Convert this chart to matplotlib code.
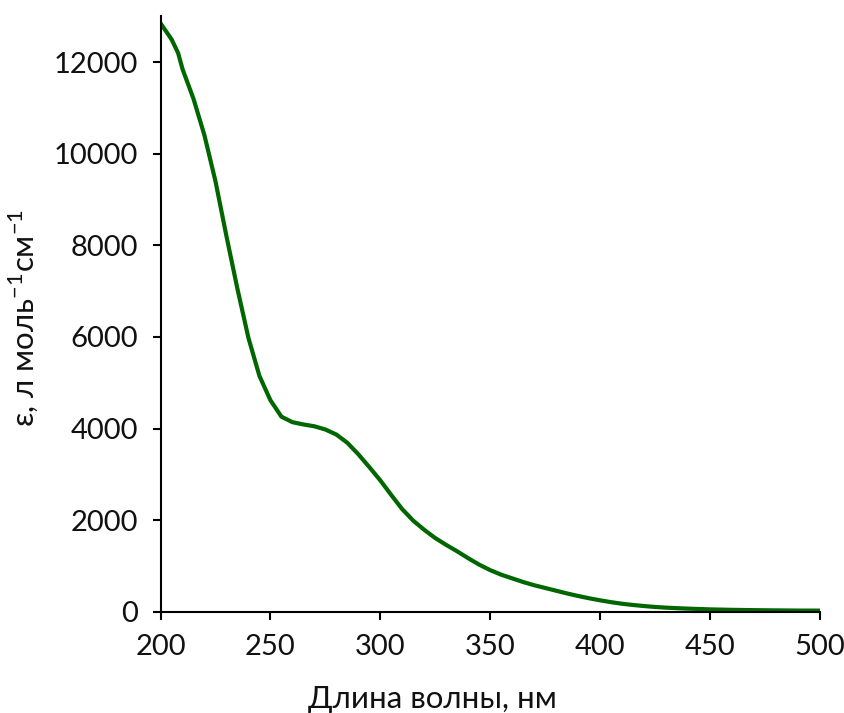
import matplotlib
matplotlib.use("Agg")
import matplotlib.pyplot as plt

wavelength = [200, 205, 208, 210, 215, 220, 225, 230, 235, 240, 245, 250, 255,
              260, 265, 270, 275, 280, 285, 290, 295, 300, 305, 310, 315, 320,
              325, 330, 335, 340, 345, 350, 355, 360, 365, 370, 375, 380, 385,
              390, 395, 400, 405, 410, 415, 420, 425, 430, 435, 440, 445, 450,
              460, 470, 480, 490, 500]
epsilon = [12850, 12500, 12200, 11850, 11200, 10400, 9400, 8200, 7050, 5980,
           5150, 4620, 4260, 4140, 4090, 4050, 3980, 3870, 3690, 3440, 3160,
           2870, 2550, 2240, 1990, 1790, 1610, 1460, 1320, 1170, 1030, 910,
           810, 730, 650, 580, 520, 460, 400, 345, 295, 250, 210, 175, 148,
           125, 105, 90, 78, 68, 60, 52, 42, 35, 30, 26, 25]
x_ticks = [200, 250, 300, 350, 400, 450, 500]
y_ticks = [0, 2000, 4000, 6000, 8000, 10000, 12000]

plt.rcParams['font.family'] = ['Lato', 'Noto Sans', 'DejaVu Sans']
plt.rcParams['mathtext.fontset'] = 'custom'
plt.rcParams['mathtext.rm'] = 'Lato'
plt.rcParams['mathtext.it'] = 'Lato:italic'

fig = plt.figure(figsize=(8.45, 7.13), dpi=100)
ax = fig.add_axes([0.190, 0.142, 0.780, 0.835])
ax.plot(wavelength, epsilon, color='#006600', lw=3.0, solid_capstyle='round',
        solid_joinstyle='round')
ax.set_xlim(200, 500)
ax.set_ylim(0, 13000)
ax.set_xticks(x_ticks)
ax.set_yticks(y_ticks)
ax.set_xticklabels([str(v) for v in x_ticks])
ax.set_yticklabels([str(v) for v in y_ticks])
for s in ['top', 'right']:
    ax.spines[s].set_visible(False)
for s in ['left', 'bottom']:
    ax.spines[s].set_linewidth(1.5)
ax.tick_params(direction='out', length=6, width=1.5, labelsize=21, pad=10,
               labelcolor='#111111')
ax.set_xlabel('Длина волны, нм', fontsize=22.5, labelpad=18, color='#111111')
ax.xaxis.label.set_x(0.413)
ax.set_ylabel(r'ε, л моль$^{-1}$см$^{-1}$', fontsize=22.5, labelpad=9,
              color='#111111')
ax.yaxis.label.set_y(0.494)
fig.savefig('out.png', dpi=100)
